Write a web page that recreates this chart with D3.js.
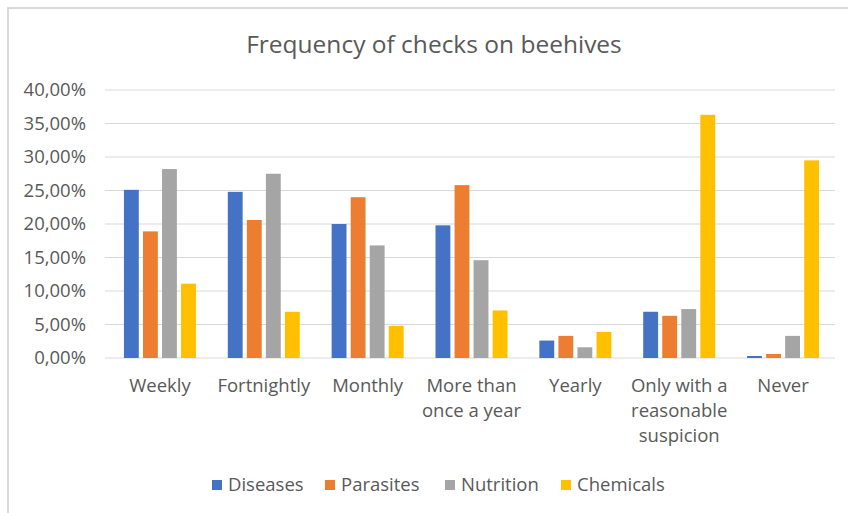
<!DOCTYPE html>
<html>
<head>
	<meta charset="utf-8">
	<title>Frequency of checks on beehives</title>
	<script type="text/javascript" src="https://cdn.jsdelivr.net/npm/d3@7"></script>
	<style>
		body { margin: 0; background: #fff; }
		text { font-family: "Open Sans", sans-serif; fill: #595959; }
	</style>
</head>
<body>
	<svg id="chart" width="848" height="513"></svg>
	<script type="text/javascript">
		// data (percent)
		var categories = ["Weekly", "Fortnightly", "Monthly", "More than once a year", "Yearly", "Only with a reasonable suspicion", "Never"];
		var seriesNames = ["Diseases", "Parasites", "Nutrition", "Chemicals"];
		var diseases  = [25.1, 24.8, 20.0, 19.8, 2.6, 6.9, 0.3];
		var parasites = [18.9, 20.6, 24.0, 25.8, 3.3, 6.3, 0.6];
		var nutrition = [28.2, 27.5, 16.8, 14.6, 1.6, 7.3, 3.3];
		var chemicals = [11.1, 6.9, 4.8, 7.1, 3.9, 36.3, 29.5];
		var yTicks = [0, 5, 10, 15, 20, 25, 30, 35, 40];
		var colors = ["#4472C4", "#ED7D31", "#A5A5A5", "#FFC000"];

		(function() {
		var values = [diseases, parasites, nutrition, chemicals];
		var svg = d3.select("#chart");
		var fs = 18.5;

		// outer frame
		svg.append("rect")
			.attr("x", 8).attr("y", 8)
			.attr("width", 900).attr("height", 600)
			.attr("fill", "none")
			.attr("stroke", "#d9d9d9")
			.attr("stroke-width", 2);

		svg.append("text")
			.attr("x", 434).attr("y", 53)
			.attr("text-anchor", "middle")
			.style("font-size", "24.5px")
			.text("Frequency of checks on beehives");

		var plotL = 105, plotR = 835, plotT = 90, plotB = 358;

		var y = d3.scaleLinear().domain([0, 40]).range([plotB, plotT]);
		var x0 = d3.scaleBand().domain(categories).range([plotL + 3, plotR]);
		var bw = x0.bandwidth();
		var x1 = d3.scaleBand().domain(seriesNames)
			.range([bw / 2 - 36, bw / 2 + 36])
			.paddingInner(0.22);

		// gridlines
		svg.append("g").selectAll("line")
			.data(yTicks)
			.enter()
			.append("line")
			.attr("x1", plotL).attr("x2", plotR)
			.attr("y1", function(d) { return y(d); })
			.attr("y2", function(d) { return y(d); })
			.attr("stroke", "#d9d9d9")
			.attr("stroke-width", 1);

		// y labels
		svg.append("g").selectAll("text")
			.data(yTicks)
			.enter()
			.append("text")
			.attr("x", 86)
			.attr("y", function(d) { return y(d); })
			.attr("dy", "0.35em")
			.attr("text-anchor", "end")
			.style("font-size", fs + "px")
			.text(function(d) { return d3.format(".2f")(d).replace(".", ",") + "%"; });

		// bars
		var groups = svg.append("g").selectAll("g")
			.data(categories)
			.enter()
			.append("g")
			.attr("transform", function(d) { return "translate(" + x0(d) + ",0)"; });

		groups.selectAll("rect")
			.data(function(d, i) {
				return seriesNames.map(function(s, j) { return { s: s, j: j, v: values[j][i] }; });
			})
			.enter()
			.append("rect")
			.attr("x", function(d) { return x1(d.s); })
			.attr("width", x1.bandwidth())
			.attr("y", function(d) { return y(d.v); })
			.attr("height", function(d) { return plotB - y(d.v); })
			.attr("fill", function(d) { return colors[d.j]; });

		// x labels, wrapped
		function wrap(label, maxW) {
			var words = label.split(" "), lines = [], cur = "";
			var probe = svg.append("text").style("font-size", fs + "px");
			words.forEach(function(w) {
				var t = cur ? cur + " " + w : w;
				probe.text(t);
				if (cur && probe.node().getComputedTextLength() > maxW) {
					lines.push(cur);
					cur = w;
				} else {
					cur = t;
				}
			});
			lines.push(cur);
			probe.remove();
			return lines;
		}

		svg.append("g").selectAll("text")
			.data(categories)
			.enter()
			.append("text")
			.attr("text-anchor", "middle")
			.style("font-size", fs + "px")
			.each(function(d) {
				var t = d3.select(this);
				wrap(d, 110).forEach(function(line, k) {
					t.append("tspan")
						.attr("x", x0(d) + bw / 2)
						.attr("y", 392 + k * 25)
						.text(line);
				});
			});

		// legend
		var legendX = [212, 325, 445, 561];
		var legend = svg.append("g").selectAll("g")
			.data(seriesNames)
			.enter()
			.append("g")
			.attr("transform", function(d, i) { return "translate(" + legendX[i] + ",480)"; });
		legend.append("rect")
			.attr("width", 10).attr("height", 10)
			.attr("fill", function(d, i) { return colors[i]; });
		legend.append("text")
			.attr("x", 16).attr("y", 5)
			.attr("dy", "0.35em")
			.style("font-size", fs + "px")
			.text(function(d) { return d; });
		})();
	</script>
</body>
</html>
